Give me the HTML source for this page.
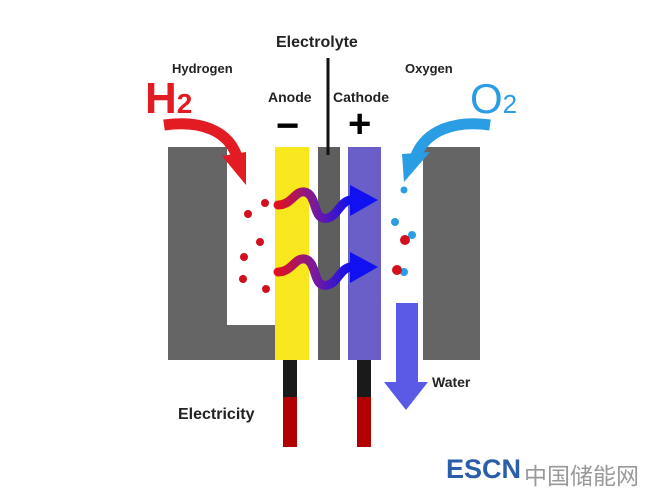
<!DOCTYPE html>
<html><head><meta charset="utf-8"><style>
body{margin:0;background:#fff;width:652px;height:491px;overflow:hidden;position:relative;font-family:"Liberation Sans","Noto Sans CJK SC",sans-serif}
.t{position:absolute;font-weight:bold;color:#222;white-space:nowrap}
</style></head><body>
<svg width="652" height="491" style="position:absolute;left:0;top:0">
<defs><linearGradient id="g" x1="0" x2="1"><stop offset="0" stop-color="#e01020"/><stop offset="0.5" stop-color="#7a1a9a"/><stop offset="1" stop-color="#1010f0"/></linearGradient></defs>
<path d="M168 147H227V325H275V360H168Z" fill="#656565"/>
<rect x="423" y="147" width="57" height="213" fill="#656565"/>
<rect x="275" y="147" width="34" height="213" fill="#f8e71c"/>
<rect x="318" y="147" width="22" height="213" fill="#5e5e5e"/>
<rect x="348" y="147" width="33" height="213" fill="#6a5fc9"/>
<line x1="328" y1="58" x2="328" y2="155" stroke="#111" stroke-width="3"/>
<rect x="283" y="360" width="14" height="37" fill="#1a1a1a"/><rect x="283" y="397" width="14" height="50" fill="#b00000"/>
<rect x="357" y="360" width="14" height="37" fill="#1a1a1a"/><rect x="357" y="397" width="14" height="50" fill="#b00000"/>
<g fill="none" stroke="url(#g)" stroke-width="9" stroke-linecap="round">
<path d="M278 205C292 205 295 190 305 192C318 195 312 222 328 218C338 215 340 202 350 200"/>
<path d="M278 272C292 272 295 257 305 259C318 262 312 289 328 285C338 282 340 269 350 267"/>
</g>
<path d="M350 185L378 200L350 216Z" fill="#1010f0"/><path d="M350 252L378 267L350 283Z" fill="#1010f0"/>
<path d="M164 125C200 120 230 130 238 160" fill="none" stroke="#e31b23" stroke-width="11"/>
<path d="M222 156L246 152L246 185Z" fill="#e31b23"/>
<path d="M490 125C455 120 425 130 415 158" fill="none" stroke="#2a9de4" stroke-width="11"/>
<path d="M402 154L430 152L404 182Z" fill="#2a9de4"/>
<g fill="#d0101c"><circle cx="265" cy="203" r="4"/><circle cx="248" cy="214" r="4"/><circle cx="260" cy="242" r="4"/><circle cx="244" cy="257" r="4"/><circle cx="243" cy="279" r="4"/><circle cx="266" cy="289" r="4"/></g>
<g fill="#2a9de4"><circle cx="404" cy="190" r="3.5"/><circle cx="395" cy="222" r="4"/><circle cx="412" cy="235" r="4"/><circle cx="404" cy="272" r="4"/><circle cx="410" cy="311" r="3.5"/></g>
<g fill="#d0101c"><circle cx="405" cy="240" r="5"/><circle cx="397" cy="270" r="5"/><circle cx="404" cy="316" r="5"/></g>
<path d="M396 303H418V382H428L406 410L384 382H396Z" fill="#5a5ae6"/>
</svg>
<div class="t" style="left:276px;top:34px;font-size:16px">Electrolyte</div>
<div class="t" style="left:172px;top:61px;font-size:13px">Hydrogen</div>
<div class="t" style="left:405px;top:61px;font-size:13px">Oxygen</div>
<div class="t" style="left:268px;top:89px;font-size:14px">Anode</div>
<div class="t" style="left:333px;top:89px;font-size:14px">Cathode</div>
<div class="t" style="left:276px;top:106px;font-size:40px;color:#000;line-height:40px">−</div>
<div class="t" style="left:348px;top:104px;font-size:40px;color:#000;line-height:40px">+</div>
<div class="t" style="left:145px;top:76px;font-size:44px;color:#e31b23;line-height:46px">H<span style="font-size:28px">2</span></div>
<div class="t" style="left:470px;top:76px;font-size:42px;color:#2a9de4;line-height:46px;font-weight:normal">O<span style="font-size:26px">2</span></div>
<div class="t" style="left:432px;top:374px;font-size:14px">Water</div>
<div class="t" style="left:178px;top:406px;font-size:16px">Electricity</div>
<div class="t" style="left:446px;top:454px;font-size:27px;color:#2a5ea8">ESCN</div>
<div class="t" style="left:524px;top:457px;font-size:23px;color:#999;font-weight:normal">中国储能网</div>
</body></html>
